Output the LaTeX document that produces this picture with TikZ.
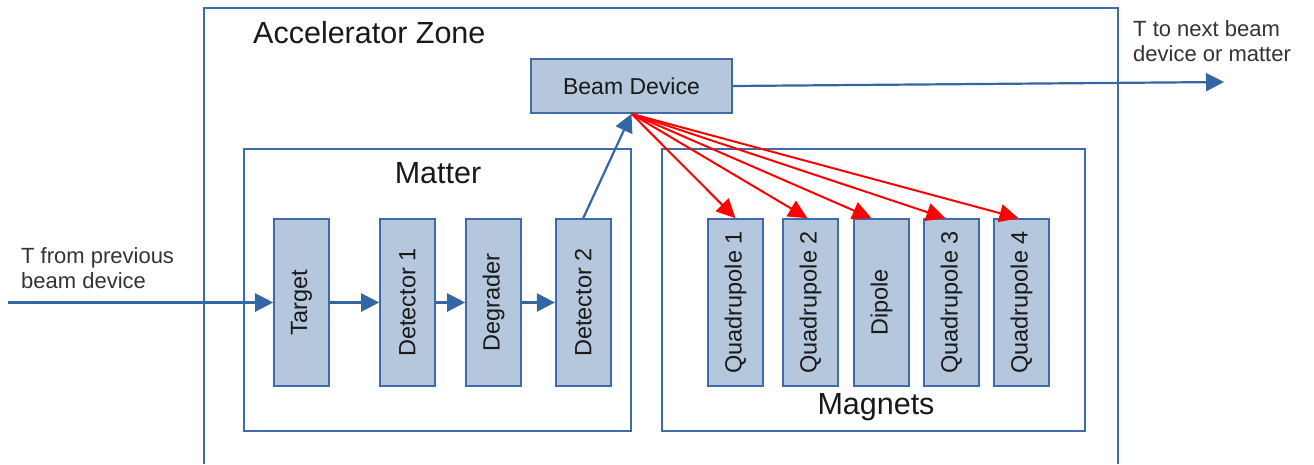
\documentclass[tikz,border=0pt]{standalone}
\usepackage{fontspec}
\setmainfont{Liberation Sans}
\usetikzlibrary{arrows.meta}
\definecolor{boxfill}{HTML}{B4C7DC}
\definecolor{boxline}{HTML}{3F6BAA}
\definecolor{arrblue}{HTML}{3465A4}
\definecolor{txtgray}{HTML}{333333}
\tikzset{
  comp/.style={draw=boxline, fill=boxfill, line width=1.6pt, inner sep=0pt, minimum width=55pt, minimum height=167pt, font=\fontsize{23.5}{28}\selectfont, text=black!90},
  group/.style={draw=boxline, line width=2pt, fill=white, inner sep=0pt},
  bluearr/.style={draw=arrblue, line width=2.2pt, -{Triangle[length=18pt,width=18pt]}, arrblue},
  redarr/.style={draw=red, line width=2pt, -{Triangle[length=19pt,width=18pt]}, red},
  sidetext/.style={font=\fontsize{22}{25}\selectfont, text=txtgray, align=left, inner sep=0pt},
  title/.style={font=\fontsize{30.5}{36}\selectfont, text=black!90, inner sep=0pt}
}
\begin{document}
\begin{tikzpicture}[x=1pt,y=-1pt]
\useasboundingbox (0,0) rectangle (1314,464);
\fill[white] (0,0) rectangle (1314,464);
% outer zone
\draw[boxline, line width=2pt] (204,464) -- (204,8) -- (1118,8) -- (1118,464);
\node[title, anchor=west] (zone) at (253,33) {Accelerator Zone};
% groups
\node[group, minimum width=387pt, minimum height=282pt] (matter) at (437.5,290) {};
\node[group, minimum width=423pt, minimum height=282pt] (magnets) at (873.5,290) {};
\node[title] (mattert) at (438,173) {Matter};
\node[title] (magnetst) at (876,407) {Magnets};
% beam device
\node[draw=boxline, fill=boxfill, line width=1.6pt, inner sep=0pt, minimum width=201pt, minimum height=54pt, font=\fontsize{23}{28}\selectfont, text=black!90] (beam) at (631.5,86) {Beam Device};
% matter components
\node[comp] (target) at (301.5,302.5) {\rotatebox{90}{Target}};
\node[comp] (det1) at (407.5,302.5) {\rotatebox{90}{Detector 1}};
\node[comp] (degr) at (493.5,302.5) {\rotatebox{90}{Degrader}};
\node[comp] (det2) at (583.2,302.5) {\rotatebox{90}{Detector 2}};
% magnets
\node[comp] (q1) at (735.5,302.5) {\rotatebox{90}{Quadrupole 1}};
\node[comp] (q2) at (810.5,302.5) {\rotatebox{90}{Quadrupole 2}};
\node[comp] (dip) at (881.5,302.5) {\rotatebox{90}{Dipole}};
\node[comp] (q3) at (951.5,302.5) {\rotatebox{90}{Quadrupole 3}};
\node[comp] (q4) at (1021.5,302.5) {\rotatebox{90}{Quadrupole 4}};
% side texts
\node[sidetext, anchor=west] (intext) at (21,268.5) {T from previous\\beam device};
\node[sidetext, anchor=west] (outtext) at (1133,41) {T to next beam\\device or matter};
\coordinate (in) at (8,302.5);
\coordinate (out) at (1224,82);
% blue arrows
\draw[bluearr] (in) -- (target.west);
\draw[bluearr] (target.east) -- (det1.west);
\draw[bluearr] (det1.east) -- (degr.west);
\draw[bluearr] (degr.east) -- (det2.west);
\draw[bluearr] (det2.north) -- (beam.south);
\draw[bluearr] (beam.east) -- (out);
% red arrows
\draw[redarr] (beam.south) -- (q1.north);
\draw[redarr] (beam.south) -- ([xshift=-3pt]q2.north);
\draw[redarr] (beam.south) -- ([xshift=-10pt]dip.north);
\draw[redarr] (beam.south) -- ([xshift=-6pt]q3.north);
\draw[redarr] (beam.south) -- ([xshift=-3pt]q4.north);
\end{tikzpicture}
\end{document}
